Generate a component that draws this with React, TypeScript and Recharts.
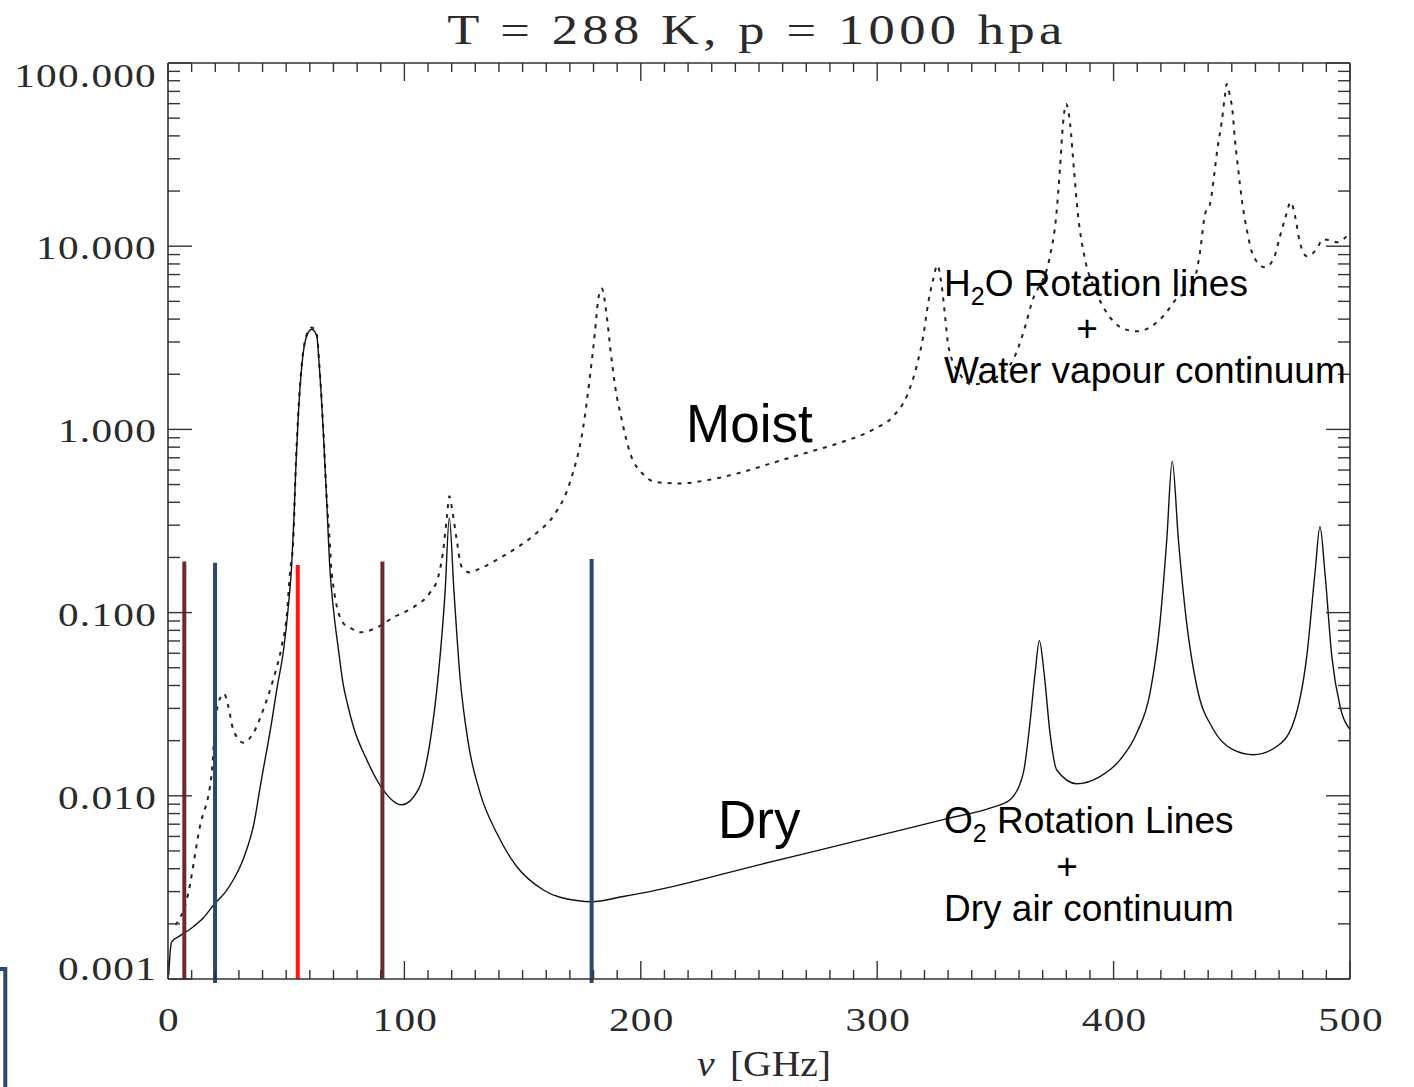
import React from "react";
import { LineChart, Line, XAxis, YAxis, ReferenceLine } from "recharts";

// ---- Data ----
const dryFreq = [
  0.3, 1, 1.5, 5, 10, 15, 20, 24, 27.6, 32, 36.5, 39, 44, 46, 49.1, 50.9, 52.3, 53.3, 54.1, 55.1, 56.6, 58.7,
  60.8, 62.9, 64, 65.7, 67.1, 68.5, 70, 72.1, 74, 76, 78.4, 84.1, 90.4, 98.9, 105.9, 110.8, 114.3, 117.2,
  119, 121, 123.5, 127, 132, 139, 147.5, 158.8, 172.9, 179.2, 192.5, 203.8, 250, 300, 330, 347.7, 356.2,
  361.8, 364.6, 366.8, 368.6, 370.6, 373.1, 375.9, 384.4, 394.2, 402.7, 409.8, 415.4, 419.6, 422.5,
  424.8, 427.4, 430.9, 435.2, 442.2, 450.7, 459.1, 469, 476, 481.7, 485.2, 487.3, 489.4, 492.3, 495.8, 500,
];
const dryAtten = [
  0.00105, 0.00144, 0.00159, 0.00172, 0.0019, 0.00216, 0.0026, 0.00295, 0.00347, 0.00458, 0.00721, 0.0112,
  0.026, 0.038, 0.0655, 0.108, 0.179, 0.336, 0.631, 1.18, 2.22, 3.24, 3.52, 3.24, 2.22, 0.964, 0.414, 0.172,
  0.104, 0.0628, 0.0414, 0.0314, 0.0239, 0.0157, 0.01106, 0.00893, 0.0108, 0.0195, 0.0449, 0.1285, 0.329,
  0.1285, 0.0449, 0.0195, 0.01038, 0.00628, 0.00411, 0.00306, 0.00268, 0.00264, 0.00282, 0.003, 0.0042,
  0.00604, 0.00753, 0.00857, 0.00951, 0.0133, 0.0249, 0.0468, 0.0703, 0.0468, 0.022, 0.01387, 0.01164,
  0.01274, 0.0157, 0.022, 0.0364, 0.0879, 0.2506, 0.671, 0.2506, 0.0879, 0.0395, 0.023, 0.0178, 0.01675,
  0.01858, 0.0249, 0.0577, 0.165, 0.294, 0.165, 0.0577, 0.0308, 0.023,
];

const moistFreq = [
  3.2, 7.9, 13.5, 18.5, 19.9, 21.3, 23.7, 25.5, 27.6, 31.9, 36.1, 40.3, 44.5, 48.1, 50.2, 51.6, 53, 54.1,
  55.1, 56.6, 58.7, 60.8, 62.9, 64, 65.7, 67.1, 68.5, 69.2, 74, 77, 81.2, 88.3, 95.2, 103.6, 110.8, 114.2,
  116.3, 118, 119, 120.4, 122.1, 124.2, 127.7, 131.1, 141.7, 156, 163, 170, 175.7, 178.5, 180.6, 182,
  183.5, 185.6, 187, 189.1, 191.9, 195.4, 201.1, 206.7, 216.6, 227.9, 242, 256, 270.2, 284.3, 298.4,
  306.8, 312.5, 316.7, 319.5, 321.6, 323.7, 325.4, 327.3, 328.7, 330.1, 335, 340, 346, 352, 357.6, 361.8,
  365.4, 373.1, 375.6, 377.3, 378.6, 379.9, 381.6, 383.2, 384.9, 387.9, 392.1, 398.5, 404.8, 410.3, 415.4,
  421.7, 427.2, 432.3, 436.5, 438.7, 440.8, 442.5, 443.9, 445.7, 447.1, 447.8, 449.2, 450.2, 451.3, 452.7,
  454.2, 456.3, 459.1, 464, 467.6, 470.4, 472.5, 475, 476.7, 478.8, 481.8, 485.9, 488.5, 492.3, 494.5, 500,
];
const moistAtten = [
  0.00197, 0.0027, 0.00679, 0.0133, 0.0239, 0.0321, 0.0361, 0.0308, 0.023, 0.0195, 0.022, 0.0295, 0.0431,
  0.0655, 0.0955, 0.165, 0.2506, 0.66, 1.22, 2.27, 3.3, 3.6, 3.3, 2.27, 0.99, 0.43, 0.235, 0.166, 0.088,
  0.0828, 0.078, 0.0828, 0.094, 0.1065, 0.1285, 0.155, 0.213, 0.335, 0.431, 0.351, 0.2506, 0.178, 0.1655,
  0.172, 0.203, 0.273, 0.336, 0.513, 1.04, 1.95, 3.39, 5.13, 5.87, 4.16, 2.85, 1.73, 1.135, 0.748, 0.567,
  0.515, 0.507, 0.528, 0.58, 0.658, 0.746, 0.846, 1.0, 1.18, 1.52, 2.22, 3.24, 4.92, 6.61, 7.87, 6.07, 4.16,
  2.85, 2.0, 1.76, 1.8, 2.0, 2.41, 3.37, 4.92, 8.85, 14.1, 26.4, 46.5, 59.7, 46.5, 26.4, 15.0, 8.49, 5.82,
  4.09, 3.52, 3.43, 3.61, 4.25, 5.26, 5.61, 9.2, 15.0, 17.0, 24.2, 33.9, 47.4, 66.2, 76.7, 66.2, 56.1, 38.5,
  26.4, 18.1, 12.4, 8.85, 7.67, 8.49, 11.35, 14.1, 17.4, 14.7, 10.5, 8.81, 9.64, 10.9, 10.7, 10.5, 11.9,
];

// Vertical marker lines (frequency, top value, colour)
const markerFreqs = [6.9, 19.9, 54.9, 90.7, 179.2];
const markerTops = [0.19, 0.187, 0.182, 0.19, 0.196];
const markerBottoms = [0.001, 0.00095, 0.001, 0.001, 0.00095];
const markerColors = ["#6E2A2A", "#2A4870", "#FF1414", "#6E2A2A", "#2A4870"];

// Ticks
const yMajorTicks = [0.001, 0.01, 0.1, 1, 10, 100];
const yTickLabels = ["0.001", "0.010", "0.100", "1.000", "10.000", "100.000"];
const yMinorMantissas = [2, 3, 4, 5, 6, 7, 8, 9];
const xMajorTicks = [0, 100, 200, 300, 400, 500];
const xTickLabels = ["0", "100", "200", "300", "400", "500"];
const xMinorStep = 10;

const titleText = "T = 288 K, p = 1000 hpa";

// ---- Derived tables ----
const dryData = dryFreq.map((f, i) => ({ x: f, y: dryAtten[i] }));
const moistData = moistFreq.map((f, i) => ({ x: f, y: moistAtten[i] }));

const yMinorTicks: number[] = [];
yMajorTicks.slice(0, -1).forEach((d) =>
  yMinorMantissas.forEach((m) => yMinorTicks.push(Number((d * m).toPrecision(3))))
);
const yAllTicks = [...yMajorTicks, ...yMinorTicks].sort((a, b) => a - b);

const xMinorTicks: number[] = [];
for (let v = xMinorStep; v < 500; v += xMinorStep) if (v % 100 !== 0) xMinorTicks.push(v);
const xAllTicks = [...xMajorTicks, ...xMinorTicks].sort((a, b) => a - b);

const AX = "#333";
const TXT = "#2a2a2a";
const SERIF = "'Liberation Serif', 'Times New Roman', serif";
const SANS = "'Liberation Sans', Arial, sans-serif";
const WIDE = 1.25;

function LeftYTick(props: any) {
  const { x, y, payload } = props;
  const i = yMajorTicks.indexOf(payload.value);
  const major = i >= 0;
  const len = major ? 24 : 12;
  let dy = 2;
  if (i === yMajorTicks.length - 1) dy = 13;
  if (i === 0) dy = -10;
  return (
    <g>
      <line x1={x} y1={y} x2={x + len} y2={y} stroke={AX} strokeWidth={1.4} />
      {major && (
        <text transform={`translate(${x - 11},${y + dy}) scale(${WIDE},1)`} x={0} y={0} textAnchor="end"
          dominantBaseline="central" fontFamily={SERIF} fontSize={33} letterSpacing={1} fill={TXT}>
          {yTickLabels[i]}
        </text>
      )}
    </g>
  );
}

function RightYTick(props: any) {
  const { x, y, payload } = props;
  const major = yMajorTicks.indexOf(payload.value) >= 0;
  const len = major ? 24 : 12;
  return <line x1={x} y1={y} x2={x - len} y2={y} stroke={AX} strokeWidth={1.4} />;
}

function BottomXTick(props: any) {
  const { x, y, payload } = props;
  const i = xMajorTicks.indexOf(payload.value);
  const major = i >= 0;
  const len = major ? 18 : 9;
  return (
    <g>
      <line x1={x} y1={y} x2={x} y2={y - len} stroke={AX} strokeWidth={1.4} />
      {major && (
        <text transform={`translate(${x + 1},${y + 41}) scale(${WIDE},1)`} x={0} y={0} textAnchor="middle"
          dominantBaseline="central" fontFamily={SERIF} fontSize={33} letterSpacing={1} fill={TXT}>
          {xTickLabels[i]}
        </text>
      )}
    </g>
  );
}

function TopXTick(props: any) {
  const { x, y, payload } = props;
  const major = xMajorTicks.indexOf(payload.value) >= 0;
  const len = major ? 18 : 9;
  return <line x1={x} y1={y} x2={x} y2={y + len} stroke={AX} strokeWidth={1.4} />;
}

export default function App() {
  return (
    <div style={{ position: "absolute", left: 0, top: 0, width: 1414, height: 1087, background: "#fff" }}>
      <LineChart width={1414} height={1087} margin={{ top: 43, right: 44, bottom: 58, left: 68 }}>
        <XAxis xAxisId="b" type="number" dataKey="x" domain={[0, 500]} allowDataOverflow
          ticks={xAllTicks} interval={0} tickSize={0} tickMargin={0} tickLine={false}
          tick={<BottomXTick />} height={50} orientation="bottom"
          axisLine={{ stroke: AX, strokeWidth: 1.6 }} />
        <XAxis xAxisId="t" type="number" dataKey="x" domain={[0, 500]} allowDataOverflow
          ticks={xAllTicks} interval={0} tickSize={0} tickMargin={0} tickLine={false}
          tick={<TopXTick />} height={20} orientation="top"
          axisLine={{ stroke: AX, strokeWidth: 1.6 }} />
        <YAxis yAxisId="l" type="number" scale="log" domain={[0.001, 100]} allowDataOverflow
          ticks={yAllTicks} interval={0} tickSize={0} tickMargin={0} tickLine={false}
          tick={<LeftYTick />} width={100} orientation="left"
          axisLine={{ stroke: AX, strokeWidth: 1.6 }} />
        <YAxis yAxisId="r" type="number" scale="log" domain={[0.001, 100]} allowDataOverflow
          ticks={yAllTicks} interval={0} tickSize={0} tickMargin={0} tickLine={false}
          tick={<RightYTick />} width={20} orientation="right"
          axisLine={{ stroke: AX, strokeWidth: 1.6 }} />
        <Line xAxisId="b" yAxisId="l" data={moistData} dataKey="y" type="monotone" dot={false}
          stroke="#222" strokeWidth={2} strokeDasharray="4 6" isAnimationActive={false} />
        <Line xAxisId="b" yAxisId="l" data={dryData} dataKey="y" type="monotone" dot={false}
          stroke="#111" strokeWidth={1.4} isAnimationActive={false} />
        {markerFreqs.map((f, i) => (
          <ReferenceLine key={i} xAxisId="b" yAxisId="l" ifOverflow="visible"
            segment={[{ x: f, y: markerBottoms[i] }, { x: f, y: markerTops[i] }]}
            stroke={markerColors[i]} strokeWidth={4} />
        ))}
      </LineChart>
      <svg width={1414} height={1087} style={{ position: "absolute", left: 0, top: 0, pointerEvents: "none" }}>
        <text transform={`translate(757,44) scale(${WIDE},1)`} x={0} y={0} textAnchor="middle"
          fontFamily={SERIF} fontSize={42} letterSpacing={3.5} fill={TXT}>
          {titleText}
        </text>
        <text transform="translate(764,1076) scale(1.1,1)" x={0} y={0} textAnchor="middle"
          fontFamily={SERIF} fontSize={36} fill={TXT}>
          <tspan fontStyle="italic">ν</tspan><tspan dx={14}>[GHz]</tspan>
        </text>
        <text x={686} y={442} fontFamily={SANS} fontSize={53} fill="#000">Moist</text>
        <text x={718} y={838} fontFamily={SANS} fontSize={53} fill="#000">Dry</text>
        <text x={944} y={296} fontFamily={SANS} fontSize={37} fill="#000">
          H<tspan fontSize={25} dy={9}>2</tspan><tspan dy={-9}>O Rotation lines</tspan>
        </text>
        <text x={1087} y={341} textAnchor="middle" fontFamily={SANS} fontSize={37} fill="#000">+</text>
        <text x={944} y={383} fontFamily={SANS} fontSize={37} fill="#000">Water vapour continuum</text>
        <text x={944} y={833} fontFamily={SANS} fontSize={37} fill="#000">
          O<tspan fontSize={25} dy={9}>2</tspan><tspan dy={-9}> Rotation Lines</tspan>
        </text>
        <text x={1067} y={879} textAnchor="middle" fontFamily={SANS} fontSize={37} fill="#000">+</text>
        <text x={944} y={921} fontFamily={SANS} fontSize={37} fill="#000">Dry air continuum</text>
        <path d="M0,969 L7,969 M5.3,967 L5.3,1087" stroke="#2A4870" strokeWidth={4} fill="none" />
      </svg>
    </div>
  );
}
